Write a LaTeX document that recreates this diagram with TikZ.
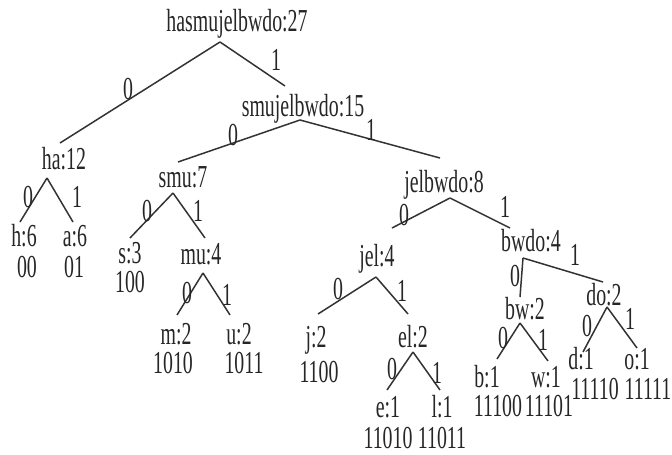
\documentclass[tikz,border=0pt]{standalone}
\usepackage{fontspec}
\setmainfont[FakeStretch=0.62]{Liberation Serif}
\begin{document}
\begin{tikzpicture}[x=1pt,y=-1pt,
  every node/.style={inner sep=0pt, text=black!85},
  tnode/.style={anchor=base, font=\fontsize{32}{32}\selectfont},
  bit/.style={font=\fontsize{32}{32}\selectfont},
  branch/.style={draw=black!80, line width=1.5pt}]
\useasboundingbox (0,0) rectangle (672,455);

% ---- node texts (weights) ----
\node[tnode] (root)  at (237,31)  {hasmujelbwdo:27};
\node[tnode] (smuj)  at (303,116) {smujelbwdo:15};
\node[tnode] (ha)    at (64,169)  {ha:12};
\node[tnode] (h)     at (24,246)  {h:6};
\node[tnode] (a)     at (75,246)  {a:6};
\node[tnode] (smu)   at (183,187) {smu:7};
\node[tnode] (s)     at (130,263) {s:3};
\node[tnode] (mu)    at (201,264) {mu:4};
\node[tnode] (m)     at (176,344) {m:2};
\node[tnode] (u)     at (239,344) {u:2};
\node[tnode] (jelb)  at (444,192) {jelbwdo:8};
\node[tnode] (jel)   at (377,266) {jel:4};
\node[tnode] (j)     at (316,347) {j:2};
\node[tnode] (el)    at (413,347) {el:2};
\node[tnode] (e)     at (388,417) {e:1};
\node[tnode] (l)     at (442,417) {l:1};
\node[tnode] (bwdo)  at (531,251) {bwdo:4};
\node[tnode] (bw)    at (525,319) {bw:2};
\node[tnode] (b)     at (487,387) {b:1};
\node[tnode] (w)     at (546,387) {w:1};
\node[tnode] (do)    at (604,305) {do:2};
\node[tnode] (d)     at (581,369) {d:1};
\node[tnode] (o)     at (637,369) {o:1};

% ---- codewords ----
\node[tnode] (hc) at (27,277)  {00};
\node[tnode] (ac) at (74,277)  {01};
\node[tnode] (sc) at (130,292) {100};
\node[tnode] (mc) at (173,373) {1010};
\node[tnode] (uc) at (244,373) {1011};
\node[tnode] (jc) at (319,382) {1100};
\node[tnode] (ec) at (388,448) {11010};
\node[tnode] (lc) at (442,448) {11011};
\node[tnode] (bc) at (498,416) {11100};
\node[tnode] (wc) at (549,416) {11101};
\node[tnode] (dc) at (595,399) {11110};
\node[tnode] (oc) at (648,399) {11111};

% ---- branch points below each parent ----
\coordinate (root-j) at (220,42);
\coordinate (smuj-j) at (300,120);
\coordinate (ha-j)   at (47,178);
\coordinate (smu-j)  at (173,193);
\coordinate (mu-j)   at (203,273);
\coordinate (jelb-j) at (450,198);
\coordinate (jel-j)  at (376,277);
\coordinate (el-j)   at (413,352);
\coordinate (bwdo-j) at (523,258);
\coordinate (bw-j)   at (520,323);
\coordinate (do-j)   at (607,307);

% ---- tops of the children ----
\coordinate (ha-t)   at (60,143);
\coordinate (smuj-t) at (285,86);
\coordinate (smu-t)  at (178,162);
\coordinate (jelb-t) at (440,158);
\coordinate (h-t)    at (20,222);
\coordinate (a-t)    at (73,222);
\coordinate (s-t)    at (130,238);
\coordinate (mu-t)   at (205,238);
\coordinate (m-t)    at (177,315);
\coordinate (u-t)    at (230,315);
\coordinate (jel-t)  at (392,228);
\coordinate (bwdo-t) at (510,228);
\coordinate (j-t)    at (318,314);
\coordinate (el-t)   at (408,314);
\coordinate (e-t)    at (387,390);
\coordinate (l-t)    at (440,390);
\coordinate (bw-t)   at (520,297);
\coordinate (do-t)   at (603,282);
\coordinate (b-t)    at (497,359);
\coordinate (w-t)    at (548,361);
\coordinate (d-t)    at (583,352);
\coordinate (o-t)    at (637,348);

% ---- branches ----
\foreach \p/\c in {root/ha, root/smuj, smuj/smu, smuj/jelb, ha/h, ha/a,
                   smu/s, smu/mu, mu/m, mu/u, jelb/jel, jelb/bwdo,
                   jel/j, jel/el, el/e, el/l, bwdo/bw, bwdo/do,
                   bw/b, bw/w, do/d, do/o}
  \draw[branch] (\p-j) -- (\c-t);

% ---- branch bits ----
\node[bit] (b-root-0) at (128,89)  {0};
\node[bit] (b-root-1) at (276,60)  {1};
\node[bit] (b-smuj-0) at (233,135) {0};
\node[bit] (b-smuj-1) at (371,130) {1};
\node[bit] (b-ha-0)   at (28,197)  {0};
\node[bit] (b-ha-1)   at (77,197)  {1};
\node[bit] (b-smu-0)  at (147,211) {0};
\node[bit] (b-smu-1)  at (198,211) {1};
\node[bit] (b-mu-0)   at (187,293) {0};
\node[bit] (b-mu-1)   at (227,295) {1};
\node[bit] (b-jelb-0) at (404,215) {0};
\node[bit] (b-jelb-1) at (505,207) {1};
\node[bit] (b-jel-0)  at (338,289) {0};
\node[bit] (b-jel-1)  at (402,291) {1};
\node[bit] (b-el-0)   at (392,369) {0};
\node[bit] (b-el-1)   at (437,373) {1};
\node[bit] (b-bwdo-0) at (515,276) {0};
\node[bit] (b-bwdo-1) at (575,255) {1};
\node[bit] (b-bw-0)   at (503,338) {0};
\node[bit] (b-bw-1)   at (543,340) {1};
\node[bit] (b-do-0)   at (587,326) {0};
\node[bit] (b-do-1)   at (630,319) {1};
\end{tikzpicture}
\end{document}
